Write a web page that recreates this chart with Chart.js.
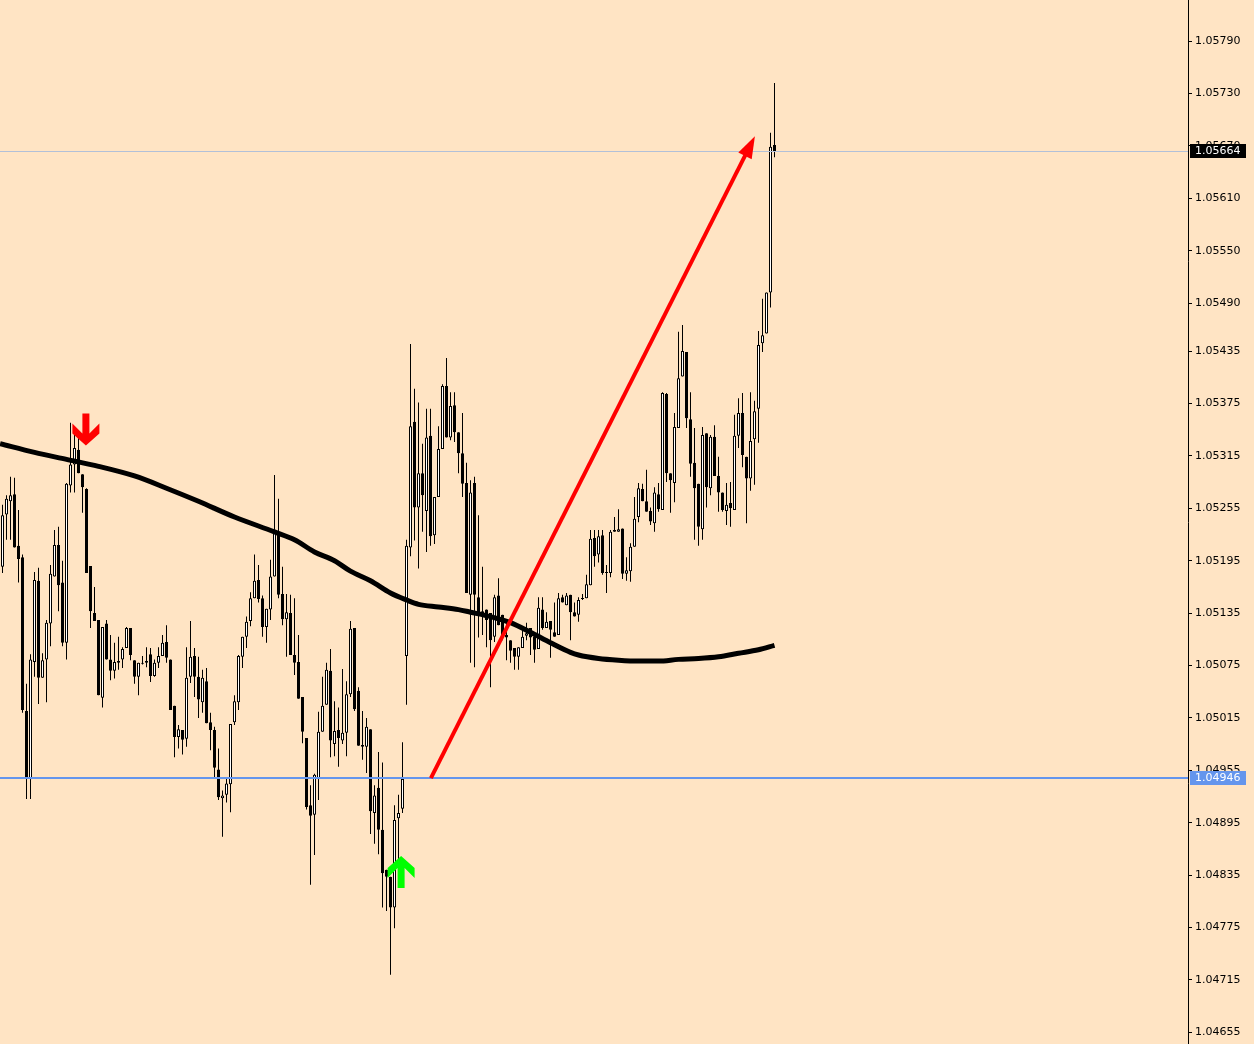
<!DOCTYPE html>
<html><head><meta charset="utf-8">
<script src="https://cdn.jsdelivr.net/npm/chart.js@4.4.1/dist/chart.umd.min.js"></script>
<style>
html,body{margin:0;padding:0;background:#ffe4c4;overflow:hidden}
#wrap{position:relative;width:1254px;height:1044px;background:#ffe4c4}
</style></head><body><div id="wrap"><canvas id="c"></canvas></div>
<script>
// ---- DATA (candles) ----
const openP = [1.05188,1.05248,1.05263,1.05271,1.05212,1.05199,1.05023,1.04945,1.05079,1.05172,
1.05061,1.05082,1.05123,1.05177,1.05213,1.05170,1.05101,1.05281,1.05305,1.05322,
1.05294,1.05277,1.05189,1.05135,1.05127,1.05038,1.05123,1.05082,1.05069,1.05078,
1.05082,1.05095,1.05118,1.05081,1.05062,1.05077,1.05078,1.05088,1.05063,1.05078,
1.05086,1.05102,1.05082,1.05029,1.04993,1.05001,1.04991,1.05062,1.05086,1.05062,
1.05033,1.05057,1.05010,1.05001,1.04956,1.04923,1.04927,1.04939,1.05010,1.05033,
1.05085,1.05108,1.05126,1.05152,1.05173,1.05152,1.05119,1.05139,1.05177,1.05227,
1.05157,1.05128,1.05135,1.05087,1.05079,1.05039,1.04992,1.04915,1.04904,1.04945,
1.04999,1.05030,1.05069,1.04985,1.05001,1.04989,1.04998,1.05042,1.05118,1.05046,
1.04984,1.04982,1.05002,1.04906,1.04935,1.04887,1.04841,1.04833,1.04798,1.04900,
1.04911,1.05086,1.05210,1.05354,1.05256,1.05295,1.05252,1.05338,1.05224,1.05268,
1.05323,1.05395,1.05336,1.05373,1.05342,1.05318,1.05284,1.05156,1.05284,1.05153,
1.05135,1.05139,1.05135,1.05108,1.05155,1.05133,1.05110,1.05104,1.05095,1.05085,
1.05095,1.05109,1.05118,1.05108,1.05094,1.05139,1.05118,1.05126,1.05113,1.05110,
1.05153,1.05144,1.05156,1.05136,1.05133,1.05151,1.05152,1.05167,1.05221,1.05202,
1.05224,1.05182,1.05181,1.05230,1.05228,1.05232,1.05180,1.05183,1.05211,1.05245,
1.05277,1.05263,1.05252,1.05238,1.05271,1.05253,1.05386,1.05295,1.05284,1.05347,
1.05406,1.05434,1.05357,1.05307,1.05283,1.05231,1.05341,1.05278,1.05337,1.05292,
1.05273,1.05252,1.05261,1.05253,1.05338,1.05364,1.05314,1.05289,1.05334,1.05369,
1.05444,1.05455,1.05502,1.05671];
const highP = [1.05259,1.05270,1.05291,1.05290,1.05253,1.05202,1.05054,1.05088,1.05182,1.05187,
1.05089,1.05127,1.05190,1.05230,1.05234,1.05195,1.05284,1.05353,1.05341,1.05337,
1.05294,1.05278,1.05189,1.05165,1.05127,1.05119,1.05127,1.05110,1.05101,1.05108,
1.05096,1.05119,1.05118,1.05081,1.05078,1.05086,1.05096,1.05095,1.05082,1.05096,
1.05110,1.05121,1.05082,1.05029,1.05007,1.05001,1.05096,1.05126,1.05095,1.05085,
1.05070,1.05072,1.05021,1.05005,1.04980,1.04932,1.04946,1.05008,1.05041,1.05087,
1.05108,1.05131,1.05159,1.05202,1.05190,1.05155,1.05140,1.05196,1.05293,1.05266,
1.05188,1.05157,1.05156,1.05152,1.05110,1.05039,1.04992,1.04938,1.04951,1.05022,
1.05062,1.05078,1.05094,1.05034,1.05027,1.05071,1.05057,1.05126,1.05118,1.05050,
1.05023,1.05015,1.05002,1.04938,1.04976,1.04964,1.04841,1.04833,1.04915,1.04927,
1.04987,1.05219,1.05443,1.05392,1.05376,1.05329,1.05369,1.05369,1.05268,1.05349,
1.05397,1.05427,1.05388,1.05388,1.05342,1.05364,1.05307,1.05287,1.05291,1.05247,
1.05188,1.05139,1.05135,1.05156,1.05175,1.05133,1.05124,1.05104,1.05095,1.05096,
1.05118,1.05124,1.05118,1.05108,1.05153,1.05153,1.05136,1.05126,1.05147,1.05158,
1.05156,1.05158,1.05156,1.05147,1.05153,1.05157,1.05179,1.05230,1.05230,1.05230,
1.05230,1.05190,1.05230,1.05245,1.05254,1.05232,1.05199,1.05215,1.05268,1.05284,
1.05283,1.05299,1.05256,1.05279,1.05284,1.05388,1.05387,1.05295,1.05364,1.05457,
1.05465,1.05434,1.05388,1.05347,1.05283,1.05348,1.05341,1.05339,1.05350,1.05314,
1.05273,1.05284,1.05285,1.05362,1.05381,1.05387,1.05314,1.05388,1.05378,1.05458,
1.05495,1.05502,1.05685,1.05742];
const lowP = [1.05181,1.05219,1.05219,1.05210,1.05170,1.05021,1.04922,1.04922,1.05062,1.05031,
1.05061,1.05033,1.05097,1.05177,1.05137,1.05097,1.05082,1.05273,1.05273,1.05295,
1.05250,1.05181,1.05118,1.05126,1.05041,1.05027,1.05082,1.05058,1.05060,1.05070,
1.05072,1.05095,1.05081,1.05054,1.05041,1.05076,1.05073,1.05056,1.05062,1.05072,
1.05086,1.05078,1.05024,1.04970,1.04980,1.04973,1.04982,1.05055,1.05039,1.05015,
1.05021,1.05009,1.04978,1.04946,1.04921,1.04879,1.04918,1.04907,1.05007,1.05024,
1.05072,1.05095,1.05120,1.05152,1.05147,1.05108,1.05101,1.05127,1.05177,1.05152,
1.05121,1.05085,1.05087,1.05064,1.05037,1.04986,1.04910,1.04824,1.04858,1.04921,
1.04999,1.05030,1.04970,1.04971,1.04959,1.04985,1.04971,1.05039,1.05023,1.04983,
1.04967,1.04952,1.04882,1.04871,1.04859,1.04798,1.04794,1.04721,1.04774,1.04844,
1.04906,1.05030,1.05200,1.05218,1.05186,1.05228,1.05205,1.05212,1.05214,1.05268,
1.05323,1.05336,1.05333,1.05331,1.05295,1.05268,1.05158,1.05078,1.05073,1.05107,
1.05110,1.05096,1.05050,1.05102,1.05121,1.05104,1.05081,1.05078,1.05070,1.05070,
1.05095,1.05104,1.05087,1.05078,1.05094,1.05116,1.05118,1.05084,1.05108,1.05110,
1.05147,1.05144,1.05104,1.05131,1.05125,1.05150,1.05152,1.05167,1.05188,1.05193,
1.05179,1.05158,1.05176,1.05228,1.05228,1.05174,1.05172,1.05171,1.05211,1.05239,
1.05263,1.05251,1.05236,1.05228,1.05251,1.05253,1.05285,1.05250,1.05262,1.05347,
1.05406,1.05347,1.05291,1.05219,1.05212,1.05219,1.05256,1.05270,1.05292,1.05251,
1.05251,1.05236,1.05234,1.05253,1.05324,1.05302,1.05238,1.05275,1.05282,1.05330,
1.05434,1.05455,1.05485,1.05657];
const closeP = [1.05247,1.05266,1.05270,1.05210,1.05197,1.05024,1.04946,1.05082,1.05173,1.05061,
1.05081,1.05124,1.05180,1.05213,1.05167,1.05101,1.05283,1.05305,1.05324,1.05295,
1.05279,1.05181,1.05137,1.05126,1.05041,1.05119,1.05082,1.05069,1.05079,1.05080,
1.05094,1.05118,1.05087,1.05062,1.05078,1.05078,1.05080,1.05063,1.05078,1.05086,
1.05101,1.05084,1.05024,1.04993,1.05002,1.04990,1.05061,1.05085,1.05062,1.05036,
1.05061,1.05009,1.05001,1.04958,1.04924,1.04926,1.04940,1.05008,1.05034,1.05086,
1.05108,1.05125,1.05152,1.05172,1.05151,1.05119,1.05140,1.05177,1.05227,1.05156,
1.05128,1.05136,1.05087,1.05078,1.05037,1.04999,1.04913,1.04903,1.04950,1.04999,
1.05029,1.05070,1.04989,1.05000,1.04992,1.04998,1.05042,1.05117,1.05025,1.04983,
1.04982,1.05005,1.04908,1.04926,1.04887,1.04837,1.04833,1.04798,1.04898,1.04906,
1.04945,1.05212,1.05349,1.05256,1.05295,1.05270,1.05336,1.05223,1.05268,1.05323,
1.05395,1.05336,1.05372,1.05342,1.05318,1.05283,1.05158,1.05273,1.05156,1.05135,
1.05137,1.05127,1.05104,1.05153,1.05121,1.05110,1.05107,1.05092,1.05085,1.05096,
1.05108,1.05112,1.05107,1.05093,1.05141,1.05118,1.05125,1.05116,1.05108,1.05152,
1.05147,1.05155,1.05136,1.05131,1.05150,1.05152,1.05168,1.05220,1.05200,1.05223,
1.05181,1.05181,1.05228,1.05228,1.05231,1.05180,1.05184,1.05211,1.05243,1.05278,
1.05263,1.05251,1.05240,1.05273,1.05254,1.05387,1.05295,1.05287,1.05348,1.05404,
1.05435,1.05358,1.05306,1.05278,1.05234,1.05339,1.05279,1.05337,1.05292,1.05273,
1.05253,1.05259,1.05255,1.05338,1.05364,1.05316,1.05289,1.05332,1.05366,1.05442,
1.05453,1.05502,1.05669,1.05664];
// moving average (bar index, value)
const maIndex = [-0.6,8,16,24,33,41,49,58,68,73,78,83,87,92,97,101,104,109,114,117,122,127,132,137,142,144,149,154,159,164,169,174,179,184,189,193];
const maValue = [1.05329,1.05319,1.05311,1.05303,1.05292,1.05278,1.05263,1.05245,1.05228,1.05219,1.05205,1.05195,1.05183,1.05172,1.05158,1.05150,1.05145,1.05142,1.05139,1.05136,1.05131,1.05124,1.05113,1.05101,1.05090,1.05087,1.05083,1.05081,1.05080,1.05080,1.05082,1.05083,1.05085,1.05089,1.05093,1.05098];
// price axis tick labels
const yTicks = [1.05790,1.05730,1.05670,1.05610,1.05550,1.05490,1.05435,1.05375,1.05315,1.05255,1.05195,1.05135,1.05075,1.05015,1.04955,1.04895,1.04835,1.04775,1.04715,1.04655];
const currentPrice = 1.05664;
const levelPrice = 1.04946;
const trendStart = {x: 107.1, y: 1.04946};
const trendEnd = {x: 188.1, y: 1.05681};
const sellSignal = {x: 20.85, y: 1.05327};
const buySignal = {x: 99.65, y: 1.04857};
const Y_MIN = 1.046416, Y_MAX = 1.05837;
const X_MIN = -0.625, X_MAX = 296.375;

// ---- build ----
const barIndex = openP.map((_, i) => i);
const wickData = barIndex.map(i => ({x: i, y: [lowP[i], highP[i]]}));
const bodyData = barIndex.map(i => ({x: i, y: [openP[i], closeP[i]]}));
const bodyColors = barIndex.map(i => closeP[i] >= openP[i] ? '#ffffff' : '#000000');
const maData = maIndex.map((x, k) => ({x: x, y: maValue[k]}));
const FONT = '11px "DejaVu Sans"';

function drawSignal(ctx, tx, ty, dir, color) {
  // chevron arrow: tip at (tx,ty); dir=1 points down, dir=-1 points up
  const pts = [[0,0],[13.5,12],[13.5,22],[3.5,12],[3.5,32],[-3.5,32],[-3.5,12],[-13.5,22],[-13.5,12]];
  ctx.fillStyle = color;
  ctx.beginPath();
  pts.forEach(([px, py], k) => {
    const X = tx + px, Y = ty - dir * py;
    if (k) ctx.lineTo(X, Y); else ctx.moveTo(X, Y);
  });
  ctx.closePath();
  ctx.fill();
}

const overlay = {
  id: 'overlay',
  afterDatasetsDraw(chart) {
    const {ctx, chartArea: a, scales: {x, y}} = chart;
    ctx.save();
    ctx.beginPath(); ctx.rect(a.left, a.top, a.right - a.left, a.bottom - a.top); ctx.clip();
    const py = Math.round(y.getPixelForValue(currentPrice)) + 0.5;
    ctx.strokeStyle = '#b2c0d8'; ctx.lineWidth = 1;
    ctx.beginPath(); ctx.moveTo(a.left, py); ctx.lineTo(a.right, py); ctx.stroke();
    const ly = Math.round(y.getPixelForValue(levelPrice));
    ctx.strokeStyle = '#6495ed'; ctx.lineWidth = 2;
    ctx.beginPath(); ctx.moveTo(a.left, ly); ctx.lineTo(a.right, ly); ctx.stroke();
    // trend arrow
    const x0 = x.getPixelForValue(trendStart.x), y0 = y.getPixelForValue(trendStart.y);
    const x1 = x.getPixelForValue(trendEnd.x), y1 = y.getPixelForValue(trendEnd.y);
    const dx = x1 - x0, dy = y1 - y0, len = Math.hypot(dx, dy), ux = dx / len, uy = dy / len;
    const headL = 22, headW = 7.5;
    const bx = x1 - ux * headL, by = y1 - uy * headL;
    ctx.strokeStyle = '#ff0000'; ctx.lineWidth = 4; ctx.lineCap = 'butt';
    ctx.beginPath(); ctx.moveTo(x0, y0); ctx.lineTo(bx + ux * 3, by + uy * 3); ctx.stroke();
    ctx.fillStyle = '#ff0000';
    ctx.beginPath();
    ctx.moveTo(x1, y1);
    ctx.lineTo(bx - uy * headW, by + ux * headW);
    ctx.lineTo(bx + uy * headW, by - ux * headW);
    ctx.closePath(); ctx.fill();
    drawSignal(ctx, x.getPixelForValue(sellSignal.x), y.getPixelForValue(sellSignal.y), 1, '#ff0000');
    drawSignal(ctx, x.getPixelForValue(buySignal.x), y.getPixelForValue(buySignal.y), -1, '#00ff00');
    ctx.restore();
  },
  afterDraw(chart) {
    const {ctx, chartArea: a, scales: {y}} = chart;
    const box = (price, bg, fg) => {
      const yy = Math.round(y.getPixelForValue(price));
      ctx.fillStyle = bg;
      ctx.fillRect(a.right + 2, yy - 7, 56, 14);
      ctx.fillStyle = fg;
      ctx.font = FONT;
      ctx.textBaseline = 'middle';
      ctx.textAlign = 'left';
      ctx.fillText(price.toFixed(5), a.right + 7, yy + 0.5);
    };
    ctx.save();
    box(currentPrice, '#000000', '#ffffff');
    box(levelPrice, '#6495ed', '#ffffff');
    ctx.restore();
  }
};

new Chart(document.getElementById('c'), {
  type: 'bar',
  data: {
    datasets: [
      {type: 'line', label: 'MA', data: maData, borderColor: '#000000', borderWidth: 5,
       pointRadius: 0, cubicInterpolationMode: 'monotone', order: 1, fill: false},
      {type: 'bar', label: 'body', data: bodyData, backgroundColor: bodyColors, borderColor: '#000000',
       borderWidth: 1, borderSkipped: false, barThickness: 3, minBarLength: 1, grouped: false,
       inflateAmount: 0, order: 2},
      {type: 'bar', label: 'wick', data: wickData, backgroundColor: '#000000', borderWidth: 0,
       barThickness: 1, grouped: false, inflateAmount: 0, order: 3}
    ]
  },
  options: {
    responsive: true, maintainAspectRatio: false, animation: false,
    layout: {padding: 0},
    plugins: {legend: {display: false}, tooltip: {enabled: false}},
    scales: {
      x: {type: 'linear', min: X_MIN, max: X_MAX, offset: false, display: false},
      y: {
        type: 'linear', position: 'right', min: Y_MIN, max: Y_MAX,
        afterBuildTicks: (s) => { s.ticks = yTicks.map(v => ({value: v})); },
        afterFit: (s) => { s.width = 66; s.paddingTop = 0; s.paddingBottom = 0; },
        grid: {display: true, drawOnChartArea: false, drawTicks: true, tickLength: 4, color: '#000000', lineWidth: 1},
        border: {display: true, color: '#000000', width: 1},
        ticks: {autoSkip: false, color: '#000000', font: {family: 'DejaVu Sans', size: 11}, padding: 3,
                callback: (v) => Number(v).toFixed(5)}
      }
    }
  },
  plugins: [overlay]
});
</script></body></html>
